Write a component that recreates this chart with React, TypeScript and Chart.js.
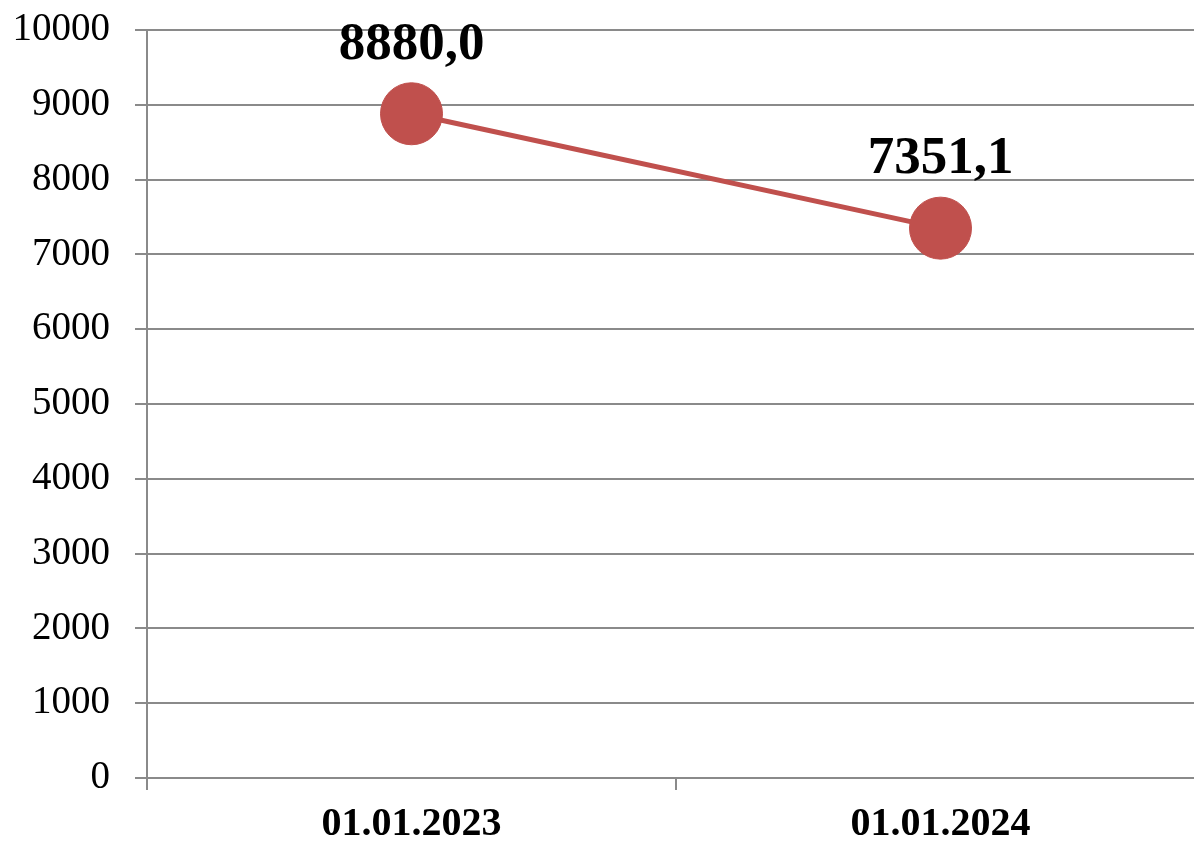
import React, { useEffect, useRef } from "react";
import { Chart, registerables } from "chart.js";

Chart.register(...registerables);

const categories = ["01.01.2023", "01.01.2024"];
const values = [8880.0, 7351.1];
const valueLabels = ["8880,0", "7351,1"];
const yTicks = [0, 1000, 2000, 3000, 4000, 5000, 6000, 7000, 8000, 9000, 10000];

const GRID = "#8a8a8a";
const RED = "#C0504D";

const dataLabelPlugin = {
  id: "dataLabels",
  afterDatasetsDraw(chart: any) {
    const ctx = chart.ctx;
    const meta = chart.getDatasetMeta(0);
    ctx.save();
    ctx.font = "bold 53px 'Liberation Serif'";
    ctx.fillStyle = "#000";
    ctx.textAlign = "center";
    ctx.textBaseline = "alphabetic";
    meta.data.forEach((pt: any, i: number) => {
      ctx.fillText(valueLabels[i], pt.x, pt.y - 55);
    });
    ctx.restore();
  },
};

export default function App() {
  const ref = useRef<HTMLCanvasElement | null>(null);
  useEffect(() => {
    if (!ref.current) return;
    const chart = new Chart(ref.current, {
      type: "line",
      data: {
        labels: categories,
        datasets: [
          {
            data: values,
            borderColor: RED,
            backgroundColor: RED,
            borderWidth: 5,
            pointRadius: 31,
            pointBorderWidth: 1,
            pointBackgroundColor: RED,
            pointBorderColor: RED,
            pointHoverRadius: 31,
            clip: false,
          },
        ],
      },
      options: {
        animation: false,
        responsive: false,
        events: [],
        layout: { autoPadding: false, padding: { left: 0, right: 10, top: 30, bottom: 0 } },
        plugins: { legend: { display: false }, tooltip: { enabled: false } },
        scales: {
          x: {
            type: "category",
            offset: true,
            grid: {
              offset: true,
              drawOnChartArea: false,
              drawTicks: true,
              tickLength: 12,
              color: GRID,
              lineWidth: 2,
            },
            border: { display: true, color: GRID, width: 2 },
            ticks: {
              color: "#000",
              padding: 11,
              maxRotation: 0,
              font: { family: "'Liberation Serif'", size: 40, weight: "bold" },
            },
            afterFit(scale: any) {
              scale.height = 64;
              scale.paddingLeft = 0;
              scale.paddingRight = 0;
            },
          },
          y: {
            min: 0,
            max: 10000,
            afterBuildTicks(scale: any) {
              scale.ticks = yTicks.map((v) => ({ value: v }));
            },
            grid: { color: GRID, lineWidth: 2, tickLength: 12, drawTicks: true },
            border: { display: true, color: GRID, width: 2 },
            ticks: {
              color: "#000",
              padding: 25,
              font: { family: "'Liberation Serif'", size: 39 },
              callback: (v: any) => String(v),
            },
            afterFit(scale: any) {
              scale.width = 147;
              scale.paddingTop = 0;
              scale.paddingBottom = 0;
            },
          },
        },
      },
      plugins: [dataLabelPlugin],
    });
    return () => chart.destroy();
  }, []);
  return (
    <div
      style={{
        position: "fixed",
        left: 0,
        top: 0,
        width: 1194,
        height: 842,
        overflow: "hidden",
        background: "#fff",
      }}
    >
      <canvas ref={ref} width={1215} height={842} style={{ display: "block" }} />
    </div>
  );
}
